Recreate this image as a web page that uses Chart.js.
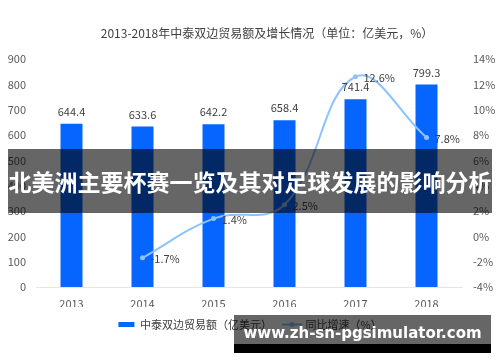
<!DOCTYPE html>
<html>
<head>
<meta charset="utf-8">
<script src="https://cdn.jsdelivr.net/npm/chart.js@4/dist/chart.umd.min.js"></script>
<style>
    html, body { margin: 0; padding: 0; background: #fff; }
    #wrap { position: relative; width: 500px; height: 362px; overflow: hidden; }
    #title {
        position: absolute; left: 0; width: 534px; top: 24px; text-align: center;
        font: 12px 'Noto Sans CJK SC', sans-serif; color: #404040; white-space: nowrap;
    }
    #banner {
        position: absolute; left: 8px; top: 149px; width: 484px; height: 64px;
        background: rgba(0, 0, 0, 0.6); color: #fff; text-align: center;
        font: bold 23px/64px 'Noto Sans CJK SC', sans-serif; white-space: nowrap;
    }
    #mark {
        position: absolute; left: 234px; top: 315px; width: 257px; height: 29px;
        background: rgba(0, 0, 0, 0.6); color: #fff; text-align: center;
        font: bold 15px/36px 'DejaVu Sans', sans-serif; white-space: nowrap; overflow: hidden;
    }
    #markBar { position: absolute; left: 234px; top: 344px; width: 257px; height: 9px; background: #000; }
</style>
</head>
<body>
<div id="wrap">
    <canvas id="chart" width="500" height="362"></canvas>
    <div id="title">2013-2018年中泰双边贸易额及增长情况（单位：亿美元，%）</div>
    <div id="banner">北美洲主要杯赛一览及其对足球发展的影响分析</div>
    <div id="mark">www.zh-sn-pgsimulator.com</div>
    <div id="markBar"></div>
</div>
<script>
// Data
const years = ['2013', '2014', '2015', '2016', '2017', '2018'];
const tradeValues = [644.4, 633.6, 642.2, 658.4, 741.4, 799.3];
const growthRates = [null, -1.7, 1.4, 2.5, 12.6, 7.8];
const tradeLabel = '中泰双边贸易额（亿美元）';
const growthLabel = '同比增速（%）';

const FONT = "'Noto Sans CJK SC', sans-serif";
const barColor = '#0765ff';
const lineColor = '#8cc3ff';

// small line-with-dot marker for the legend
function lineMarker() {
    const c = document.createElement('canvas');
    c.width = 20; c.height = 7;
    const g = c.getContext('2d');
    g.strokeStyle = lineColor;
    g.lineWidth = 2;
    g.beginPath(); g.moveTo(0, 3.5); g.lineTo(20, 3.5); g.stroke();
    g.fillStyle = lineColor;
    g.beginPath(); g.arc(10, 3.5, 2.5, 0, Math.PI * 2); g.fill();
    return c;
}

// value labels above bars and next to points
// dataset 0 = growth line, dataset 1 = trade bars
const valueLabels = {
    id: 'valueLabels',
    afterDatasetsDraw(chart) {
        const ctx = chart.ctx;
        ctx.save();
        ctx.font = '11px ' + FONT;
        ctx.fillStyle = '#404040';
        ctx.textBaseline = 'middle';

        ctx.textAlign = 'center';
        chart.getDatasetMeta(1).data.forEach((bar, i) => {
            ctx.fillText(tradeValues[i].toFixed(1), bar.x, bar.y - 12);
        });

        ctx.textAlign = 'left';
        chart.getDatasetMeta(0).data.forEach((pt, i) => {
            if (growthRates[i] === null) return;
            ctx.fillText(growthRates[i].toFixed(1) + '%', pt.x + 8, pt.y + 1);
        });
        ctx.restore();
    }
};

const chart = new Chart(document.getElementById('chart'), {
    data: {
        labels: years,
        datasets: [{
            type: 'line',
            label: growthLabel,
            data: growthRates,
            yAxisID: 'y2',
            borderColor: lineColor,
            backgroundColor: lineColor,
            borderWidth: 2,
            tension: 0.4,
            pointRadius: 2.5,
            pointBackgroundColor: lineColor,
            pointBorderWidth: 0,
            order: 0
        }, {
            type: 'bar',
            label: tradeLabel,
            data: tradeValues,
            yAxisID: 'y',
            backgroundColor: barColor,
            categoryPercentage: 1,
            barPercentage: 0.31,
            order: 1
        }]
    },
    options: {
        responsive: false,
        animation: false,
        layout: { padding: { top: 59, bottom: 22, left: 0, right: 0 } },
        plugins: {
            tooltip: { enabled: false },
            legend: {
                position: 'bottom',
                reverse: true,
                labels: {
                    usePointStyle: true,
                    pointStyleWidth: 16,
                    boxHeight: 5,
                    padding: 12,
                    color: '#404040',
                    font: { size: 11, family: FONT },
                    generateLabels(c) {
                        const items = Chart.defaults.plugins.legend.labels.generateLabels(c);
                        items.forEach(it => {
                            if (it.datasetIndex === 0) {
                                it.pointStyle = lineMarker();
                            } else {
                                it.pointStyle = 'rect';
                                it.lineWidth = 0;
                            }
                        });
                        return items;
                    }
                }
            }
        },
        scales: {
            x: {
                grid: { display: false, drawTicks: false },
                border: { display: true, color: '#e6e6e6', width: 1 },
                ticks: { color: '#595959', font: { size: 11, family: FONT }, padding: 10 },
                afterFit(scale) { scale.height = 20; }
            },
            y: {
                position: 'left',
                min: 0, max: 900,
                grid: { display: false, drawTicks: false },
                border: { display: false },
                ticks: { stepSize: 100, color: '#595959', font: { size: 11, family: FONT }, padding: 10 },
                afterFit(scale) { scale.width = 36; }
            },
            y2: {
                position: 'right',
                min: -4, max: 14,
                grid: { display: false, drawTicks: false },
                border: { display: false },
                ticks: {
                    stepSize: 2, color: '#595959', font: { size: 11, family: FONT }, padding: 11,
                    callback: (v) => v + '%'
                },
                afterFit(scale) { scale.width = 38; }
            }
        }
    },
    plugins: [valueLabels]
});
</script>
</body>
</html>
